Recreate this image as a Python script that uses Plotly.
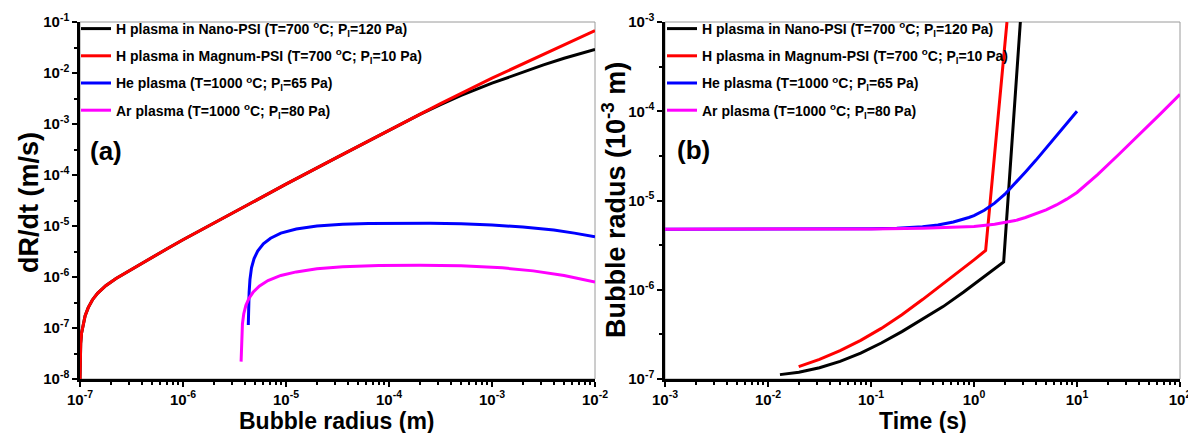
import numpy as np
import plotly.graph_objects as go

# ---------------- Panel (a): growth rate vs bubble radius (log10 values) ----------------
a_nano_logR = [-7.0, -6.998, -6.993, -6.985, -6.97, -6.95, -6.92, -6.88, -6.83, -6.75, -6.65, -6.55, -6.45,
               -6.3, -6.15, -6.0, -5.8, -5.5, -5.0, -4.5, -4.0, -3.7, -3.5, -3.3, -3.0, -2.7, -2.5, -2.3, -2.0]
a_nano_logV = [-8.0, -7.6, -7.3, -7.1, -6.92, -6.76, -6.6, -6.45, -6.32, -6.17, -6.03, -5.91, -5.79,
               -5.615, -5.44, -5.27, -5.05, -4.73, -4.18, -3.65, -3.12, -2.81, -2.62, -2.44, -2.2, -1.98, -1.84, -1.71, -1.54]

a_magnum_logR = [-7.0, -6.998, -6.993, -6.985, -6.97, -6.95, -6.92, -6.88, -6.83, -6.75, -6.65, -6.55, -6.45,
                 -6.3, -6.15, -6.0, -5.8, -5.5, -5.0, -4.5, -4.0, -3.5, -3.0, -2.5, -2.0]
a_magnum_logV = [-8.0, -7.6, -7.3, -7.1, -6.92, -6.76, -6.6, -6.45, -6.32, -6.17, -6.03, -5.91, -5.79,
                 -5.615, -5.44, -5.27, -5.05, -4.73, -4.18, -3.65, -3.12, -2.6, -2.1, -1.63, -1.17]

a_he_logR = [-5.366, -5.363, -5.358, -5.35, -5.335, -5.31, -5.275, -5.22, -5.15, -5.05, -4.9, -4.7,
             -4.45, -4.2, -3.9, -3.6, -3.3, -3.0, -2.7, -2.4, -2.2, -2.0]
a_he_logV = [-6.94, -6.6, -6.3, -6.05, -5.82, -5.64, -5.49, -5.35, -5.24, -5.14, -5.06, -5.0,
             -4.965, -4.95, -4.945, -4.945, -4.955, -4.98, -5.02, -5.08, -5.14, -5.21]

a_ar_logR = [-5.436, -5.434, -5.43, -5.423, -5.41, -5.39, -5.36, -5.32, -5.26, -5.175, -5.05, -4.9,
             -4.7, -4.45, -4.1, -3.7, -3.3, -2.9, -2.6, -2.3, -2.0]
a_ar_logV = [-7.66, -7.4, -7.15, -6.92, -6.72, -6.56, -6.42, -6.3, -6.18, -6.07, -5.97, -5.9,
             -5.84, -5.8, -5.775, -5.77, -5.78, -5.82, -5.88, -5.97, -6.1]

# ---------------- Panel (b): bubble radius vs time (log10 values) ----------------
b_nano_logT = [-1.884, -1.7, -1.5, -1.3, -1.1, -0.9, -0.7, -0.5, -0.3, -0.1, 0.1, 0.288, 0.45]
b_nano_logR = [-6.951, -6.924, -6.874, -6.803, -6.71, -6.597, -6.469, -6.333, -6.189, -6.025, -5.851, -5.689, -3.0]

b_magnum_logT = [-1.702, -1.5, -1.3, -1.1, -0.9, -0.7, -0.5, -0.3, -0.1, 0.0, 0.113, 0.32]
b_magnum_logR = [-6.861, -6.781, -6.683, -6.567, -6.433, -6.28, -6.11, -5.935, -5.755, -5.665, -5.56, -3.0]

b_he_logT = [-3.0, -2.0, -1.5, -1.0, -0.75, -0.5, -0.35, -0.2, -0.05, 0.0, 0.1, 0.2, 0.3, 0.4, 0.5, 0.6,
             0.7, 0.8, 0.9, 1.0]
b_he_logR = [-5.322, -5.322, -5.32, -5.316, -5.31, -5.295, -5.275, -5.24, -5.19, -5.17, -5.11, -5.03,
             -4.93, -4.81, -4.68, -4.55, -4.41, -4.275, -4.14, -4.0]

b_ar_logT = [-3.0, -2.0, -1.0, -0.5, -0.2, 0.0, 0.2, 0.4, 0.5, 0.6, 0.7, 0.8, 0.9, 1.0, 1.1, 1.2,
             1.4, 1.6, 1.8, 2.0]
b_ar_logR = [-5.322, -5.322, -5.318, -5.31, -5.3, -5.29, -5.265, -5.225, -5.19, -5.15, -5.105, -5.05,
             -4.985, -4.91, -4.815, -4.71, -4.49, -4.27, -4.04, -3.81]

names = [
    "H plasma in Nano-PSI (T=700 <sup>o</sup>C; P<sub>l</sub>=120 Pa)",
    "H plasma in Magnum-PSI (T=700 <sup>o</sup>C; P<sub>l</sub>=10 Pa)",
    "He plasma (T=1000 <sup>o</sup>C; P<sub>l</sub>=65 Pa)",
    "Ar plasma (T=1000 <sup>o</sup>C; P<sub>l</sub>=80 Pa)",
]
colors = ["#000000", "#FF0000", "#0000FF", "#FF00FF"]

a_sets = [(a_nano_logR, a_nano_logV), (a_magnum_logR, a_magnum_logV),
          (a_he_logR, a_he_logV), (a_ar_logR, a_ar_logV)]
b_sets = [(b_nano_logT, b_nano_logR), (b_magnum_logT, b_magnum_logR),
          (b_he_logT, b_he_logR), (b_ar_logT, b_ar_logR)]

fig = go.Figure()
for i, (lx, ly) in enumerate(a_sets):
    fig.add_trace(go.Scatter(x=10 ** np.array(lx), y=10 ** np.array(ly), mode="lines",
                             line=dict(color=colors[i], width=3),
                             name=names[i], legend="legend", legendgroup="a%d" % i,
                             xaxis="x", yaxis="y"))
for i, (lx, ly) in enumerate(b_sets):
    fig.add_trace(go.Scatter(x=10 ** np.array(lx), y=10 ** np.array(ly), mode="lines",
                             line=dict(color=colors[i], width=3),
                             name=names[i], legend="legend2", legendgroup="b%d" % i,
                             xaxis="x2", yaxis="y2"))

W, H = 1196, 433
ytop, ybot = 14, 371
ydom = [1 - ybot / H, 1 - ytop / H]
FONT = "Liberation Sans, Arial, sans-serif"
NARROW = "Liberation Sans Narrow, Arial Narrow, Liberation Sans, sans-serif"


def dec_ticks(lo, hi):
    vals = [10.0 ** k for k in range(lo, hi + 1)]
    text = ["<b>10<sup>%d</sup></b>" % k for k in range(lo, hi + 1)]
    return vals, text


def minor_x(lo, hi):
    return [m * 10.0 ** k for k in range(lo, hi) for m in range(2, 10)]


def minor_y(lo, hi):
    return [10.0 ** (k + 0.5) for k in range(lo, hi)]


def axis_common():
    return dict(type="log", showline=True, linewidth=2.5, linecolor="black", mirror=False,
                ticks="outside", ticklen=5, tickwidth=2, tickcolor="black", showgrid=False,
                zeroline=False, automargin=False,
                tickfont=dict(family=FONT, size=15, color="black"))


xa = axis_common(); xv, xt = dec_ticks(-7, -2)
xa.update(domain=[72 / W, 587 / W], range=[-7, -2], tickvals=xv, ticktext=xt, anchor="y",
          minor=dict(tickmode="array", tickvals=minor_x(-7, -2), ticks="outside", ticklen=3,
                     tickwidth=1.5, tickcolor="black", showgrid=False))
ya = axis_common(); yv, yt = dec_ticks(-8, -1)
ya.update(domain=ydom, range=[-8, -1], tickvals=yv, ticktext=yt, anchor="x",
          minor=dict(tickmode="array", tickvals=minor_y(-8, -1), ticks="outside", ticklen=3,
                     tickwidth=1.5, tickcolor="black", showgrid=False))
xb = axis_common(); xv2, xt2 = dec_ticks(-3, 2)
xb.update(domain=[657 / W, 1172 / W], range=[-3, 2], tickvals=xv2, ticktext=xt2, anchor="y2",
          minor=dict(tickmode="array", tickvals=minor_x(-3, 2), ticks="outside", ticklen=3,
                     tickwidth=1.5, tickcolor="black", showgrid=False))
yb = axis_common(); yv2, yt2 = dec_ticks(-7, -3)
yb.update(domain=ydom, range=[-7, -3], tickvals=yv2, ticktext=yt2, anchor="x2",
          minor=dict(tickmode="array", tickvals=minor_y(-7, -3), ticks="outside", ticklen=3,
                     tickwidth=1.5, tickcolor="black", showgrid=False))

legend_style = dict(font=dict(family=NARROW, size=14, color="black", weight="bold"),
                    bgcolor="rgba(0,0,0,0)", borderwidth=0, xanchor="left", yanchor="top",
                    tracegroupgap=6, itemwidth=30)


def ann(text, x, y, size, angle=0):
    return dict(text=text, x=x / W, y=1 - y / H, xref="paper", yref="paper", xanchor="center",
                yanchor="middle", textangle=angle, showarrow=False,
                font=dict(family=FONT, size=size, color="black"))


fig.update_layout(
    width=W, height=H, margin=dict(l=0, r=0, t=0, b=0, autoexpand=False),
    paper_bgcolor="white", plot_bgcolor="white",
    xaxis=xa, yaxis=ya, xaxis2=xb, yaxis2=yb,
    legend=dict(x=68 / W, y=1 - 5 / H, **legend_style),
    legend2=dict(x=654 / W, y=1 - 5 / H, **legend_style),
    shapes=[
        dict(type="rect", xref="x domain", yref="y domain", x0=0, x1=1, y0=0, y1=1,
             line=dict(color="#9a9a9a", width=1), layer="below"),
        dict(type="rect", xref="x2 domain", yref="y2 domain", x0=0, x1=1, y0=0, y1=1,
             line=dict(color="#9a9a9a", width=1), layer="below"),
    ],
    annotations=[
        ann("<b>(a)</b>", 98, 143, 26),
        ann("<b>(b)</b>", 685, 142, 26),
        ann("<b>dR/dt (m/s)</b>", 21, 195, 27, -90),
        ann("<b>Bubble radius (m)</b>", 329, 413, 23),
        ann("<b>Bubble radus (10<sup>-3</sup> m)</b>", 606, 192, 27, -90),
        ann("<b>Time (s)</b>", 915, 413, 23),
    ],
)

fig.write_html("out.html")
